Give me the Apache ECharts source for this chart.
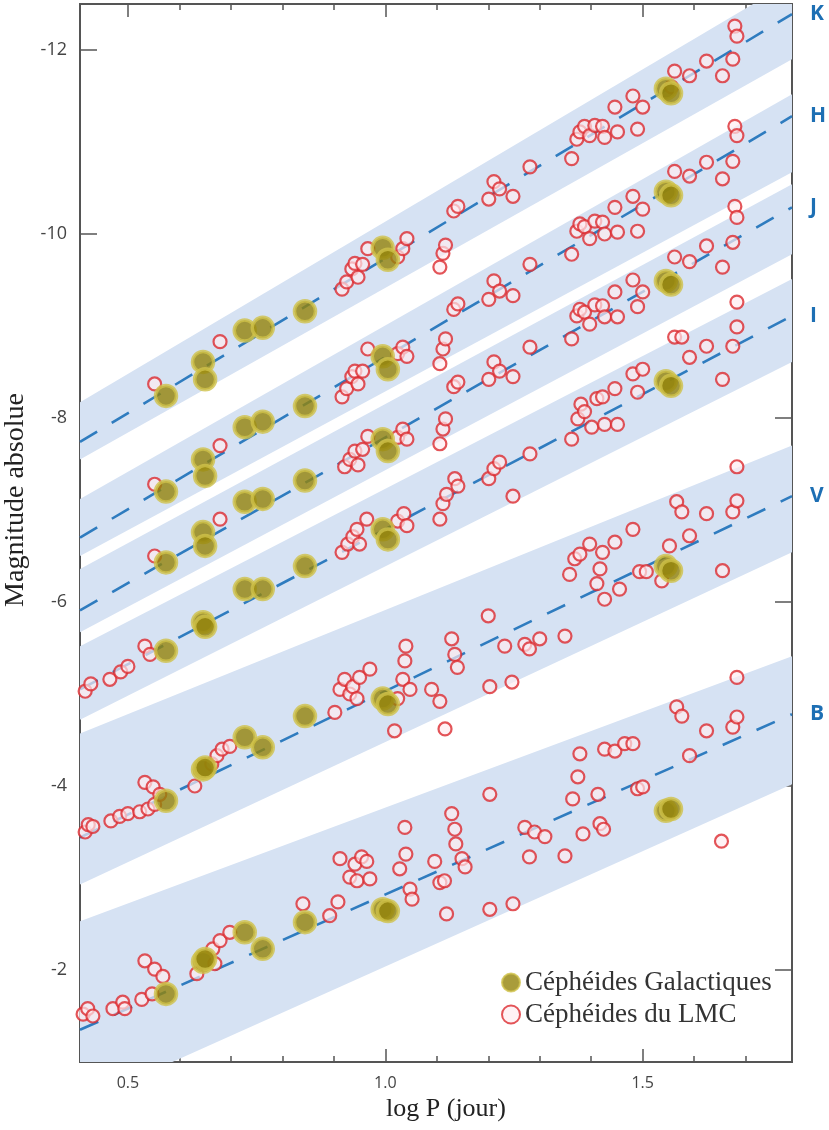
<!DOCTYPE html>
<html>
<head>
<meta charset="utf-8">
<script src="https://cdn.jsdelivr.net/npm/echarts@6/dist/echarts.min.js"></script>
<style>
  html, body { margin: 0; padding: 0; background: #fff; }
  #chart { width: 829px; height: 1130px; }
</style>
</head>
<body>
<div id="chart"></div>
<script>
// bandes photométriques, de la plus brillante (haut) à la plus faible
var bandNames = ['K', 'H', 'J', 'I', 'V', 'B'];

// droites P-L (magnitude aux deux bords du graphe)
var xLeft = 0.407, xRight = 1.79;
var fitLeft  = [-7.74, -6.70, -5.91, -5.05, -3.44, -1.35];
var fitRight = [-12.39, -11.28, -10.29, -9.11, -7.15, -4.78];

// bandes de dispersion (bord brillant / bord faible)
var bandTopLeft  = [-8.17, -7.12, -6.36, -5.52, -4.57, -2.53];
var bandBotLeft  = [-7.55, -6.50, -5.67, -4.72, -2.93, -0.55];
var bandTopRight = [-12.75, -11.52, -10.54, -9.51, -7.70, -5.41];
var bandBotRight = [-11.90, -10.67, -9.78, -8.61, -6.54, -4.02];

// Céphéides galactiques : log P commun, magnitude par bande
var galLogP = [0.574, 0.646, 0.65, 0.727, 0.762, 0.844, 0.995, 1.005, 1.545, 1.555];
var galK = [-8.24, -8.61, -8.42, -8.95, -8.98, -9.16, -9.85, -9.72, -11.58, -11.53];
var galH = [-7.20, -7.55, -7.37, -7.90, -7.96, -8.13, -8.67, -8.53, -10.46, -10.42];
var galJ = [-6.43, -6.76, -6.61, -7.09, -7.12, -7.32, -7.77, -7.64, -9.49, -9.45];
var galI = [-5.47, -5.78, -5.73, -6.14, -6.14, -6.39, -6.79, -6.68, -8.40, -8.35];
var galV = [-3.84, -4.18, -4.20, -4.53, -4.42, -4.76, -4.95, -4.89, -6.39, -6.34];
var galB = [-1.74, -2.09, -2.12, -2.41, -2.23, -2.52, -2.66, -2.64, -3.73, -3.75];

// Céphéides du LMC : [log P, magnitude]
var lmcK = [
  [0.552,-8.37],[0.679,-8.83],[0.916,-9.40],[0.925,-9.48],[0.935,-9.62],[0.941,-9.68],[0.947,-9.53],[0.956,-9.67],[0.966,-9.84],
  [1.024,-9.75],[1.034,-9.84],[1.042,-9.95],[1.106,-9.64],[1.112,-9.79],[1.117,-9.88],[1.133,-10.25],[1.141,-10.30],
  [1.201,-10.38],[1.211,-10.57],[1.222,-10.49],[1.248,-10.41],[1.281,-10.73],
  [1.362,-10.82],[1.372,-11.03],[1.378,-11.11],[1.387,-11.17],[1.397,-11.07],[1.407,-11.18],[1.422,-11.17],[1.426,-11.05],
  [1.451,-11.11],[1.446,-11.38],[1.481,-11.50],[1.49,-11.14],[1.5,-11.38],
  [1.556,-11.60],[1.562,-11.77],[1.591,-11.72],[1.624,-11.88],[1.655,-11.72],[1.675,-11.90],[1.679,-12.26],[1.683,-12.15]
];
var lmcH = [
  [0.552,-7.28],[0.679,-7.70],[0.916,-8.23],[0.925,-8.32],[0.935,-8.45],[0.941,-8.51],[0.947,-8.37],[0.956,-8.51],[0.966,-8.75],
  [1.024,-8.70],[1.034,-8.77],[1.042,-8.67],[1.106,-8.59],[1.112,-8.75],[1.117,-8.86],[1.133,-9.18],[1.141,-9.24],
  [1.201,-9.29],[1.211,-9.49],[1.222,-9.38],[1.248,-9.33],[1.281,-9.67],
  [1.362,-9.78],[1.372,-10.03],[1.378,-10.11],[1.387,-10.08],[1.397,-9.95],[1.407,-10.14],[1.422,-10.13],[1.426,-10.00],
  [1.451,-10.02],[1.446,-10.29],[1.481,-10.41],[1.49,-10.03],[1.5,-10.27],
  [1.562,-10.68],[1.591,-10.63],[1.624,-10.78],[1.655,-10.60],[1.675,-10.79],[1.679,-11.17],[1.683,-11.07]
];
var lmcJ = [
  [0.552,-6.50],[0.679,-6.90],[0.921,-7.47],[0.931,-7.55],[0.941,-7.64],[0.947,-7.49],[0.956,-7.66],[0.966,-7.80],
  [1.024,-7.79],[1.034,-7.88],[1.042,-7.77],[1.106,-7.72],[1.112,-7.88],[1.117,-7.99],[1.133,-8.34],[1.141,-8.39],
  [1.201,-8.42],[1.211,-8.61],[1.222,-8.51],[1.248,-8.45],[1.281,-8.77],
  [1.362,-8.86],[1.372,-9.11],[1.378,-9.18],[1.387,-9.15],[1.397,-9.02],[1.407,-9.23],[1.422,-9.22],[1.426,-9.10],
  [1.451,-9.10],[1.446,-9.37],[1.481,-9.50],[1.49,-9.21],[1.5,-9.37],
  [1.562,-9.75],[1.591,-9.70],[1.624,-9.87],[1.655,-9.64],[1.675,-9.91],[1.679,-10.30],[1.683,-10.18]
];
var lmcI = [
  [0.417,-5.03],[0.428,-5.11],[0.465,-5.16],[0.486,-5.24],[0.5,-5.30],[0.533,-5.52],[0.543,-5.43],
  [0.916,-6.54],[0.927,-6.63],[0.937,-6.71],[0.945,-6.79],[0.95,-6.63],[0.964,-6.90],[1.024,-6.88],[1.036,-6.96],[1.042,-6.83],
  [1.106,-6.90],[1.112,-7.07],[1.119,-7.17],[1.135,-7.34],[1.141,-7.26],
  [1.201,-7.34],[1.211,-7.45],[1.222,-7.52],[1.248,-7.15],[1.281,-7.61],
  [1.362,-7.77],[1.374,-7.99],[1.38,-8.15],[1.387,-8.07],[1.401,-7.90],[1.411,-8.21],[1.422,-8.23],[1.426,-7.93],
  [1.451,-7.93],[1.446,-8.32],[1.481,-8.48],[1.49,-8.28],[1.5,-8.53],
  [1.562,-8.88],[1.576,-8.88],[1.591,-8.66],[1.624,-8.78],[1.655,-8.42],[1.675,-8.78],[1.683,-8.99],[1.683,-9.26]
];
var lmcV = [
  [0.417,-3.50],[0.423,-3.58],[0.432,-3.56],[0.467,-3.62],[0.484,-3.67],[0.5,-3.70],[0.523,-3.72],[0.539,-3.75],[0.552,-3.80],
  [0.533,-4.04],[0.549,-3.99],[0.562,-3.91],
  [0.63,-4.00],[0.663,-4.24],[0.673,-4.33],[0.683,-4.40],[0.698,-4.43],
  [0.902,-4.80],[0.912,-5.05],[0.921,-5.16],[0.931,-5.00],[0.937,-5.08],[0.945,-4.95],[0.95,-5.18],[0.97,-5.27],
  [1.018,-4.60],[1.024,-4.95],[1.034,-5.16],[1.038,-5.36],[1.04,-5.52],[1.048,-5.05],
  [1.09,-5.05],[1.106,-4.92],[1.116,-4.62],[1.129,-5.60],[1.135,-5.43],[1.14,-5.29],[1.2,-5.85],[1.203,-5.08],
  [1.232,-5.52],[1.246,-5.13],[1.271,-5.54],[1.28,-5.49],[1.3,-5.60],
  [1.349,-5.63],[1.358,-6.30],[1.368,-6.47],[1.378,-6.52],[1.397,-6.63],[1.411,-6.20],[1.417,-6.36],[1.422,-6.54],[1.426,-6.03],
  [1.446,-6.65],[1.455,-6.14],[1.481,-6.79],[1.494,-6.33],[1.507,-6.33],[1.537,-6.23],[1.552,-6.61],
  [1.566,-7.09],[1.576,-6.98],[1.591,-6.72],[1.624,-6.96],[1.655,-6.34],[1.675,-6.98],[1.683,-7.10],[1.683,-7.47]
];
var lmcB = [
  [0.413,-1.52],[0.422,-1.58],[0.432,-1.50],[0.471,-1.58],[0.49,-1.65],[0.494,-1.58],[0.527,-1.68],[0.547,-1.74],
  [0.533,-2.10],[0.552,-2.01],[0.568,-1.93],
  [0.634,-1.96],[0.665,-2.23],[0.669,-2.07],[0.679,-2.32],[0.698,-2.41],
  [0.84,-2.72],[0.892,-2.59],[0.908,-2.74],
  [0.912,-3.21],[0.931,-3.01],[0.941,-3.15],[0.945,-2.97],[0.954,-3.23],[0.964,-3.18],[0.97,-2.99],
  [1.028,-3.10],[1.038,-3.55],[1.04,-3.26],[1.048,-2.88],[1.052,-2.77],
  [1.096,-3.18],[1.106,-2.95],[1.115,-2.97],[1.119,-2.61],[1.129,-3.70],[1.135,-3.53],[1.137,-3.37],[1.149,-3.21],[1.155,-3.12],
  [1.203,-3.91],[1.203,-2.66],[1.248,-2.72],[1.271,-3.55],[1.28,-3.23],[1.29,-3.50],[1.31,-3.45],
  [1.349,-3.24],[1.364,-3.86],[1.374,-4.10],[1.378,-4.35],[1.384,-3.48],[1.413,-3.91],[1.417,-3.59],[1.424,-3.53],
  [1.426,-4.40],[1.446,-4.38],[1.465,-4.46],[1.481,-4.46],[1.49,-3.97],[1.5,-3.99],
  [1.566,-4.86],[1.576,-4.76],[1.591,-4.33],[1.624,-4.60],[1.653,-3.40],[1.675,-4.64],[1.683,-4.75],[1.683,-5.18]
];

var xMajor = [0.5, 1.0, 1.5];
var xMinor = [0.6, 0.7, 0.8, 0.9, 1.1, 1.2, 1.3, 1.4, 1.6, 1.7];
var yTicks = [-12, -10, -8, -6, -4, -2];

var myChart = echarts.init(document.getElementById('chart'));

var galData = [];
[galK, galH, galJ, galI, galV, galB].forEach(function (mags) {
  mags.forEach(function (m, i) { galData.push([galLogP[i], m]); });
});
var lmcData = [].concat(lmcK, lmcH, lmcJ, lmcI, lmcV, lmcB);

var axisColor = '#555';
function xAxisDef(pos, ticks, len, withLabel) {
  return {
    type: 'value', position: pos, min: xLeft, max: xRight,
    axisLine: { show: true, lineStyle: { color: axisColor, width: 2 } },
    splitLine: { show: false },
    axisTick: { show: true, inside: true, length: len, customValues: ticks, lineStyle: { color: axisColor, width: 1.5 } },
    axisLabel: withLabel ? {
      show: true, customValues: xMajor, margin: 13,
      formatter: function (v) { return v.toFixed(1); },
      fontFamily: 'Open Sans', fontSize: 16, color: '#444'
    } : { show: false }
  };
}

var xAxes = [
  xAxisDef('bottom', xMajor, 13, true),
  xAxisDef('bottom', xMinor, 6, false),
  xAxisDef('top', xMajor, 13, false),
  xAxisDef('top', xMinor, 6, false)
];
xAxes[0].name = 'log P (jour)';
xAxes[0].nameLocation = 'middle';
xAxes[0].nameGap = 30;
xAxes[0].nameTextStyle = { fontFamily: 'Liberation Serif', fontSize: 26, color: '#222', padding: [0, 0, 0, 20] };

function yAxisDef(pos, withLabel) {
  return {
    type: 'value', position: pos, inverse: true, min: -12.5, max: -1,
    axisLine: { show: true, lineStyle: { color: axisColor, width: 2 } },
    splitLine: { show: false },
    axisTick: { show: true, inside: true, length: 17, customValues: yTicks, lineStyle: { color: axisColor, width: 1.5 } },
    axisLabel: withLabel ? {
      show: true, customValues: yTicks, margin: 13,
      fontFamily: 'Open Sans', fontSize: 18, color: '#444'
    } : { show: false }
  };
}
var yAxes = [yAxisDef('left', true), yAxisDef('right', false)];
yAxes[0].name = 'Magnitude absolue';
yAxes[0].nameLocation = 'middle';
yAxes[0].nameGap = 45;
yAxes[0].nameTextStyle = { fontFamily: 'Liberation Serif', fontSize: 28, color: '#222', padding: [0, 0, 0, 66] };

var series = [];

// bandes bleu clair
series.push({
  type: 'custom',
  clip: true,
  silent: true,
  z: 1,
  data: bandNames.map(function (b, i) { return [i]; }),
  encode: { x: -1, y: -1 },
  renderItem: function (params, api) {
    var i = api.value(0);
    var pts = [
      api.coord([xLeft, bandTopLeft[i]]),
      api.coord([xRight, bandTopRight[i]]),
      api.coord([xRight, bandBotRight[i]]),
      api.coord([xLeft, bandBotLeft[i]])
    ];
    return { type: 'polygon', shape: { points: pts }, style: { fill: '#d6e2f3' } };
  }
});

// droites en tirets + lettre de la bande
bandNames.forEach(function (b, i) {
  series.push({
    name: b,
    type: 'line',
    z: 2,
    silent: true,
    symbol: 'none',
    data: [[xLeft, fitLeft[i]], [xRight, fitRight[i]]],
    lineStyle: { color: '#2f7cbf', width: 2.6, type: [20, 17] },
    endLabel: {
      show: true, formatter: b, distance: 18,
      color: '#1d6fb4', fontFamily: 'Open Sans', fontWeight: 'bold', fontSize: 21
    }
  });
});

series.push({
  name: 'Céphéides du LMC',
  type: 'scatter',
  z: 3,
  symbol: 'circle',
  symbolSize: 13,
  data: lmcData,
  itemStyle: { color: 'rgba(255,236,240,0.85)', borderColor: '#dc2a30', borderWidth: 2.2 }
});

series.push({
  name: 'Céphéides Galactiques',
  type: 'scatter',
  z: 4,
  symbol: 'circle',
  symbolSize: 21,
  data: galData,
  itemStyle: { color: '#93830a', borderColor: '#cfc24a', borderWidth: 3.5 }
});

var option = {
  animation: false,
  grid: { left: 80, right: 37, top: 4, bottom: 68, containLabel: false, outerBoundsMode: 'none' },
  legend: {
    data: ['Céphéides Galactiques', 'Céphéides du LMC'],
    orient: 'vertical',
    left: 496, top: 964,
    itemWidth: 18, itemHeight: 18, itemGap: 5,
    icon: 'circle',
    textStyle: { fontFamily: 'Liberation Serif', fontSize: 27, color: '#333' }
  },
  xAxis: xAxes,
  yAxis: yAxes,
  series: series
};

myChart.setOption(option);
</script>
</body>
</html>
